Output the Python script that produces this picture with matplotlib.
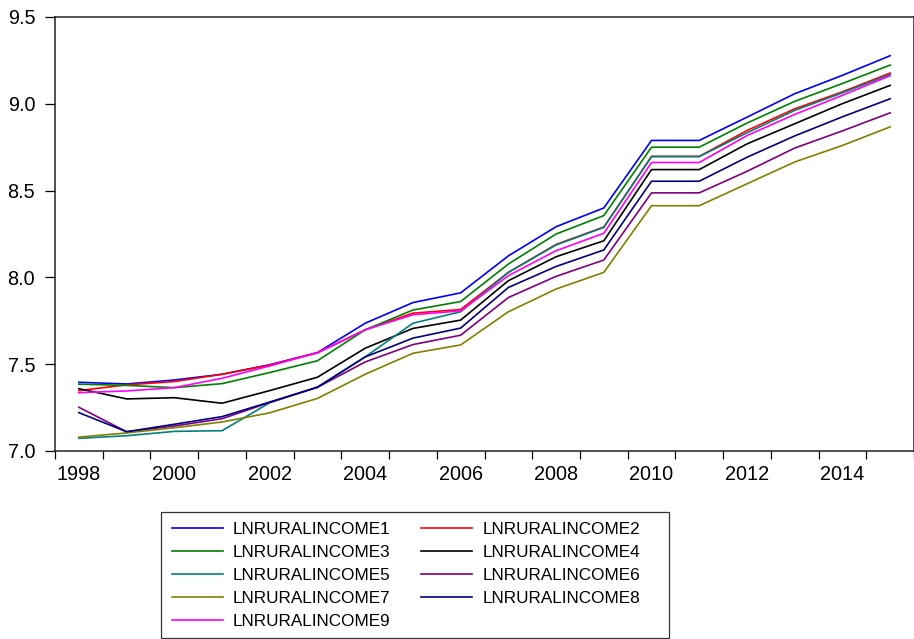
import numpy as np
import matplotlib
matplotlib.use("Agg")
from matplotlib import pyplot as plt
from matplotlib.patches import Rectangle
from matplotlib.ticker import FixedLocator, NullFormatter

years = np.arange(1998, 2016)

income1 = [7.396, 7.386, 7.409, 7.442, 7.497, 7.567, 7.736, 7.855, 7.911, 8.124,
           8.292, 8.400, 8.789, 8.789, 8.923, 9.058, 9.164, 9.277]
income2 = [7.348, 7.381, 7.400, 7.442, 7.495, 7.565, 7.698, 7.794, 7.815, 8.029,
           8.190, 8.290, 8.697, 8.697, 8.846, 8.971, 9.069, 9.177]
income3 = [7.385, 7.378, 7.365, 7.388, 7.452, 7.520, 7.698, 7.812, 7.861, 8.077,
           8.250, 8.356, 8.750, 8.750, 8.889, 9.014, 9.117, 9.223]
income4 = [7.359, 7.300, 7.307, 7.275, 7.348, 7.425, 7.592, 7.706, 7.754, 7.981,
           8.119, 8.211, 8.621, 8.621, 8.769, 8.885, 9.001, 9.106]
income5 = [7.073, 7.088, 7.113, 7.117, 7.278, 7.369, 7.542, 7.736, 7.802, 8.029,
           8.187, 8.288, 8.696, 8.696, 8.833, 8.962, 9.063, 9.169]
income6 = [7.252, 7.111, 7.144, 7.186, 7.280, 7.367, 7.513, 7.613, 7.667, 7.884,
           8.006, 8.100, 8.487, 8.487, 8.611, 8.745, 8.844, 8.948]
income7 = [7.080, 7.104, 7.134, 7.167, 7.220, 7.303, 7.442, 7.563, 7.611, 7.802,
           7.933, 8.029, 8.413, 8.413, 8.539, 8.665, 8.760, 8.867]
income8 = [7.221, 7.111, 7.154, 7.198, 7.282, 7.367, 7.542, 7.650, 7.708, 7.942,
           8.063, 8.158, 8.554, 8.554, 8.692, 8.815, 8.925, 9.029]
income9 = [7.336, 7.346, 7.365, 7.419, 7.490, 7.567, 7.698, 7.785, 7.807, 8.010,
           8.154, 8.254, 8.662, 8.662, 8.817, 8.939, 9.049, 9.162]

series = [income1, income2, income3, income4, income5,
          income6, income7, income8, income9]
names = ["LNRURALINCOME%d" % i for i in range(1, 10)]
colors = ["#0000ff", "#ff0000", "#008000", "#000000", "#008080",
          "#800080", "#808000", "#000080", "#ff00ff"]

plt.rcParams["font.family"] = ["Liberation Sans", "DejaVu Sans"]

W, H = 914, 639
fig = plt.figure(figsize=(W/100, H/100), dpi=100)
ax = fig.add_axes([55/W, 188/H, 859/W, 434/H])

# annual values sit in the middle of each year interval
lines = []
for vals, name, c in zip(series, names, colors):
    ln, = ax.plot(years + 0.5, vals, color=c, lw=1.2, label=name)
    lines.append(ln)

ax.set_xlim(1998, 2016)
ax.set_ylim(7.0, 9.5)
ax.set_yticks([7.0, 7.5, 8.0, 8.5, 9.0, 9.5])
ax.set_yticklabels(["7.0", "7.5", "8.0", "8.5", "9.0", "9.5"])

ax.xaxis.set_major_locator(FixedLocator(np.arange(1998, 2017)))
ax.xaxis.set_major_formatter(NullFormatter())
label_years = np.arange(1998, 2016, 2)
ax.xaxis.set_minor_locator(FixedLocator(label_years + 0.5))
ax.set_xticklabels([str(y) for y in label_years], minor=True)

ax.tick_params(axis="x", which="major", direction="out", length=5.5, width=0.9)
ax.tick_params(axis="x", which="minor", length=0, pad=10, labelsize=14.3)
ax.tick_params(axis="y", direction="out", length=7, width=0.9, pad=7.3,
               labelsize=14.3)
for s in ax.spines.values():
    s.set_linewidth(1.1)
    s.set_color("#222222")

# legend filled row by row: 1 2 / 3 4 / ...
order = [0, 2, 4, 6, 8, 1, 3, 5, 7]
fs = 12.3
px = fs * 100 / 72
leg = fig.legend([lines[i] for i in order], [names[i] for i in order],
                 loc="upper left", bbox_to_anchor=(172/W, 1 - 522/H),
                 ncol=2, frameon=False, borderaxespad=0, borderpad=0,
                 handlelength=51/px, handletextpad=10/px,
                 columnspacing=1.8, labelspacing=0.47,
                 prop={"size": fs})
for h in leg.legend_handles:
    h.set_linewidth(1.2)

# box around the legend
fig.patches.append(Rectangle((161/W, 1/H), 508/W, 126/H, transform=fig.transFigure,
                             fill=False, edgecolor="#333333", linewidth=0.9))

fig.savefig("out.png", dpi=100)
